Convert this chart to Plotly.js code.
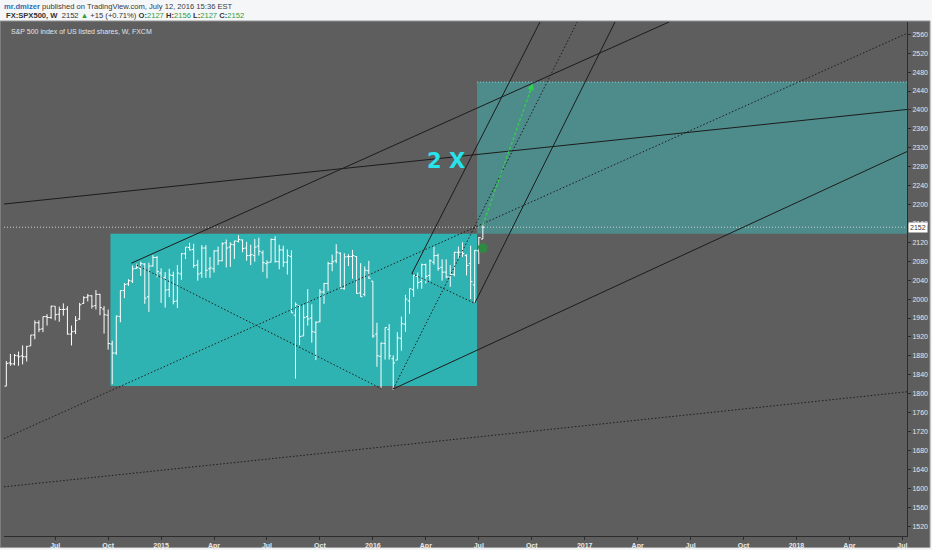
<!DOCTYPE html>
<html>
<head>
<meta charset="utf-8">
<script src="https://cdn.plot.ly/plotly-3.0.1.min.js"></script>
<style>
  html, body { margin: 0; padding: 0; background: #f5f6f8; }
  #chart { width: 932px; height: 550px; }
</style>
</head>
<body>
<div id="chart"></div>
<script>
// Weekly SPX500 bars, first week starts Monday 2014-04-07
const firstWeek = '2014-04-07';

const opens = [
    1863, 1816, 1865, 1863, 1880, 1880, 1878, 1901, 1924, 1950, 1937, 1963, 1961,
    1985, 1968, 1978, 1979, 1926, 1932, 1958, 1991, 2004, 2007, 1986, 2010, 1979,
    1966, 1905, 1886, 1963, 2018, 2032, 2038, 2065, 2065, 2074, 2005, 2070, 2088,
    2055, 2046, 2020, 2050, 1996, 2053, 2096, 2109, 2105, 2072, 2055, 2108, 2064,
    2064, 2102, 2081, 2119, 2110, 2115, 2122, 2125, 2108, 2092, 2092, 2112, 2098,
    2075, 2078, 2126, 2079, 2104, 2078, 2090, 1966, 1986, 1922, 1963, 1960, 1930,
    1952, 2015, 2033, 2075, 2081, 2097, 2022, 2090, 2090, 2090, 2013, 2010, 2060,
    2038, 1926, 1879, 1906, 1936, 1874, 1871, 1917, 1947, 1996, 2020, 2048, 2037,
    2073, 2050, 2078, 2092, 2067, 2057, 2047, 2052, 2099, 2097, 2092, 2075, 2030,
    2102, 2127
];
const highs = [
    1872, 1869, 1884, 1884, 1889, 1902, 1901, 1924, 1955, 1955, 1963, 1968, 1986,
    1985, 1984, 1991, 1985, 1944, 1964, 1992, 2006, 2011, 2008, 2019, 2011, 1985,
    1978, 1912, 1965, 2018, 2034, 2042, 2071, 2075, 2079, 2076, 2077, 2093, 2091,
    2065, 2057, 2064, 2058, 2072, 2097, 2110, 2119, 2117, 2083, 2114, 2114, 2089,
    2103, 2111, 2120, 2126, 2120, 2123, 2135, 2126, 2121, 2115, 2127, 2130, 2103,
    2082, 2128, 2133, 2115, 2113, 2105, 2103, 1993, 1986, 1988, 2021, 1989, 1953,
    2021, 2034, 2079, 2094, 2116, 2099, 2097, 2095, 2104, 2091, 2076, 2069, 2081,
    2038, 1950, 1908, 1940, 1947, 1881, 1930, 1963, 2009, 2022, 2052, 2056, 2075,
    2075, 2084, 2111, 2096, 2084, 2084, 2072, 2100, 2111, 2120, 2095, 2113, 2104,
    2131, 2156
];
const lows = [
    1814, 1816, 1859, 1860, 1859, 1862, 1868, 1901, 1915, 1930, 1930, 1944, 1958,
    1955, 1952, 1965, 1925, 1902, 1926, 1956, 1990, 1995, 1980, 1978, 1966, 1927,
    1893, 1820, 1882, 1951, 2002, 2028, 2034, 2064, 2049, 1990, 1973, 2069, 2046,
    1992, 1982, 2004, 1989, 1981, 2041, 2085, 2103, 2066, 2039, 2045, 2045, 2045,
    2056, 2072, 2080, 2067, 2068, 2085, 2120, 2099, 2081, 2072, 2079, 2092, 2057,
    2044, 2078, 2077, 2063, 2068, 2052, 1971, 1832, 1903, 1922, 1944, 1908, 1871,
    1951, 1990, 2017, 2059, 2076, 2022, 2020, 2070, 2043, 2011, 2005, 2006, 2043,
    1918, 1857, 1812, 1872, 1872, 1808, 1871, 1891, 1931, 1969, 2005, 2022, 2022,
    2033, 2039, 2073, 2060, 2039, 2044, 2026, 2048, 2086, 2089, 2050, 2000, 1991,
    2074, 2127
];
const closes = [
    1815, 1864, 1863, 1881, 1878, 1878, 1900, 1924, 1950, 1936, 1963, 1961, 1985,
    1967, 1978, 1978, 1926, 1931, 1955, 1988, 2003, 2007, 1985, 2010, 1982, 1967,
    1906, 1886, 1964, 2018, 2031, 2039, 2064, 2067, 2075, 2002, 2070, 2088, 2058,
    2044, 2019, 2051, 1995, 2055, 2096, 2110, 2104, 2071, 2053, 2108, 2061, 2066,
    2102, 2081, 2117, 2108, 2116, 2123, 2126, 2107, 2092, 2094, 2110, 2101, 2077,
    2077, 2126, 2080, 2104, 2078, 2092, 1971, 1989, 1921, 1961, 1958, 1931, 1951,
    2015, 2033, 2075, 2079, 2099, 2023, 2089, 2090, 2092, 2012, 2005, 2061, 2044,
    1922, 1880, 1907, 1940, 1880, 1865, 1918, 1948, 2000, 2022, 2050, 2035, 2073,
    2048, 2081, 2092, 2065, 2057, 2047, 2052, 2099, 2099, 2096, 2071, 2037, 2103,
    2130, 2152
];

const lastPrice = 2152;

// axis ticks
const xTickDates = ['2014-07-07', '2014-10-06', '2015-01-05', '2015-04-06', '2015-07-06', '2015-10-05',
    '2016-01-04', '2016-04-04', '2016-07-04', '2016-10-03', '2017-01-02', '2017-04-03',
    '2017-07-03', '2017-10-02', '2018-01-01', '2018-04-02', '2018-07-02'];
const xTickLabels = ['Jul', 'Oct', '2015', 'Apr', 'Jul', 'Oct', '2016', 'Apr', 'Jul', 'Oct',
    '2017', 'Apr', 'Jul', 'Oct', '2018', 'Apr', 'Jul'];
const yTicks = [1520, 1560, 1600, 1640, 1680, 1720, 1760, 1800, 1840, 1880, 1920, 1960, 2000,
    2040, 2080, 2120, 2160, 2200, 2240, 2280, 2320, 2360, 2400, 2440, 2480, 2520, 2560];

// drawings: [date0, price0, date1, price1]
const solidLines = [
    ['2014-04-10', 2201, '2018-07-10', 2401],
    ['2014-11-15', 2076, '2017-05-27', 2586],
    ['2016-02-08', 1810, '2018-07-10', 2312],
    ['2016-03-11', 2054, '2016-10-18', 2588],
    ['2016-06-27', 1991, '2017-02-24', 2588]
];
const dottedLines = [
    ['2014-04-10', 1705, '2018-07-10', 2562],
    ['2014-04-10', 1603, '2018-07-10', 1804],
    ['2014-11-24', 2072, '2016-01-18', 1811],
    ['2016-02-08', 1810, '2016-12-21', 2588],
    ['2016-03-11', 2054, '2016-06-27', 1991]
];
// boxes: [date0, date1, priceLow, priceHigh]
const rangeBox = ['2014-10-10', '2016-07-01', 1816, 2138];
const targetBox = ['2016-07-01', '2018-12-31', 2138, 2459];
// projection arrow: [date0, price0, date1, price1]
const projection = ['2016-07-11', 2157, '2016-10-05', 2456];
const signalDate = ['2016-07-11'];
const signalPrice = [2108];
const labelPos = ['2016-05-09', 2292];

const chartDiv = document.getElementById('chart');

function weekDates(start, n) {
    const t0 = new Date(start + 'T00:00:00Z').getTime();
    const out = [];
    for (let i = 0; i < n; i++) {
        out.push(new Date(t0 + i * 7 * 86400000).toISOString().slice(0, 10));
    }
    return out;
}

function lineShape(l, dash) {
    return {
        type: 'line', xref: 'x', yref: 'y',
        x0: l[0], y0: l[1], x1: l[2], y1: l[3],
        line: {color: '#1c1c1c', width: 1, dash: dash}
    };
}

const dates = weekDates(firstWeek, opens.length);

const bars = {
    type: 'ohlc',
    x: dates,
    open: opens,
    high: highs,
    low: lows,
    close: closes,
    increasing: {line: {color: '#ffffff', width: 1}},
    decreasing: {line: {color: '#ffffff', width: 1}},
    tickwidth: 0.45,
    hoverinfo: 'skip'
};

const signal = {
    type: 'scatter',
    mode: 'markers',
    x: signalDate,
    y: signalPrice,
    marker: {symbol: 'pentagon', size: 11, color: '#2e8a40', line: {width: 0}},
    hoverinfo: 'skip'
};

const shapes = [];

// gray frame behind plot and axis strips
shapes.push({
    type: 'rect', xref: 'paper', yref: 'paper',
    x0: -0.0044, x1: 1.0255, y0: -0.0225, y1: 1.002,
    fillcolor: '#5e5e5e', line: {color: '#9a9a9a', width: 1}, layer: 'below'
});

shapes.push({
    type: 'rect', xref: 'x', yref: 'y',
    x0: rangeBox[0], x1: rangeBox[1], y0: rangeBox[2], y1: rangeBox[3],
    fillcolor: '#2fb3b2', line: {width: 0}, layer: 'below'
});
shapes.push({
    type: 'rect', xref: 'x', yref: 'y',
    x0: targetBox[0], x1: targetBox[1], y0: targetBox[2], y1: targetBox[3],
    fillcolor: '#4e8b8b', line: {width: 0}, layer: 'below'
});
shapes.push({
    type: 'line', xref: 'x', yref: 'y',
    x0: targetBox[0], x1: targetBox[1], y0: targetBox[3], y1: targetBox[3],
    line: {color: '#7fd6d6', width: 1, dash: '1px,2px'}, layer: 'below'
});

// last price line
shapes.push({
    type: 'line', xref: 'paper', yref: 'y',
    x0: 0, x1: 1, y0: lastPrice, y1: lastPrice,
    line: {color: '#cfcfcf', width: 1, dash: '1px,2px'}
});

solidLines.forEach((l) => shapes.push(lineShape(l, 'solid')));
dottedLines.forEach((l) => shapes.push(lineShape(l, '1.5px,2px')));

shapes.push({
    type: 'line', xref: 'x', yref: 'y',
    x0: projection[0], y0: projection[1], x1: projection[2], y1: projection[3],
    line: {color: '#33d14a', width: 1.3, dash: '3px,2px'}
});

const annotations = [
    {
        xref: 'paper', yref: 'paper', x: -0.0022, y: 1.0311, xanchor: 'left', yanchor: 'middle',
        showarrow: false,
        text: '<span style="color:#2f6db3"><b>mr.dmizer</b></span> published on TradingView.com, July 12, 2016 15:36 EST',
        font: {family: 'Liberation Sans', size: 7.6, color: '#3a3a3a'}
    },
    {
        xref: 'paper', yref: 'paper', x: 0.0005, y: 1.013, xanchor: 'left', yanchor: 'middle',
        showarrow: false,
        text: '<b>FX:SPX500, W</b>  2152 <span style="color:#2e9e3e">▲</span> +15 (+0.71%) ' +
            '<b>O:</b><span style="color:#2e9e3e">2127</span> <b>H:</b><span style="color:#2e9e3e">2156</span> ' +
            '<b>L:</b><span style="color:#2e9e3e">2127</span> <b>C:</b><span style="color:#2e9e3e">2152</span>',
        font: {family: 'Liberation Sans', size: 7.6, color: '#333333'}
    },
    {
        xref: 'paper', yref: 'paper', x: 0.0055, y: 0.981, xanchor: 'left', yanchor: 'middle',
        showarrow: false,
        text: 'S&amp;P 500 index of US listed shares, W, FXCM',
        font: {family: 'Liberation Sans', size: 7, color: '#e4e4e4'}
    },
    {
        xref: 'x', yref: 'y', x: labelPos[0], y: labelPos[1],
        showarrow: false, text: '<b>2 X</b>',
        font: {family: 'DejaVu Sans', size: 21, color: '#27e3ec'}
    },
    {
        xref: 'paper', yref: 'y', x: 1, y: lastPrice, xanchor: 'left', yanchor: 'middle',
        xshift: 1, showarrow: false, text: String(lastPrice),
        bgcolor: '#ffffff', borderpad: 1,
        font: {family: 'Liberation Sans', size: 7, color: '#333333'}
    },
    {
        xref: 'x', yref: 'y', x: projection[2], y: projection[3],
        ax: -4, ay: 11, text: '', showarrow: true,
        arrowhead: 2, arrowsize: 1, arrowwidth: 1.3, arrowcolor: '#33d14a'
    }
];

const layout = {
    width: 932,
    height: 550,
    margin: {l: 4, r: 25, t: 22, b: 14},
    paper_bgcolor: '#f5f6f8',
    plot_bgcolor: '#5e5e5e',
    showlegend: false,
    xaxis: {
        type: 'date',
        range: ['2014-04-10', '2018-07-10'],
        tickvals: xTickDates,
        ticktext: xTickLabels,
        showgrid: false,
        zeroline: false,
        showline: true,
        linecolor: '#2c2c2c',
        ticks: 'outside',
        ticklen: 3,
        tickcolor: '#2c2c2c',
        tickfont: {family: 'Liberation Sans', size: 7, color: '#e8e8e8', weight: 'bold'},
        rangeslider: {visible: false},
        fixedrange: true
    },
    yaxis: {
        side: 'right',
        range: [1499, 2586],
        tickvals: yTicks,
        showgrid: false,
        zeroline: false,
        showline: true,
        linecolor: '#2c2c2c',
        ticks: 'outside',
        ticklen: 3,
        tickcolor: '#2c2c2c',
        tickfont: {family: 'Liberation Sans', size: 7, color: '#e8e8e8'},
        fixedrange: true
    },
    shapes: shapes,
    annotations: annotations
};

Plotly.newPlot(chartDiv, [bars, signal], layout, {displayModeBar: false, staticPlot: true});
</script>
</body>
</html>
